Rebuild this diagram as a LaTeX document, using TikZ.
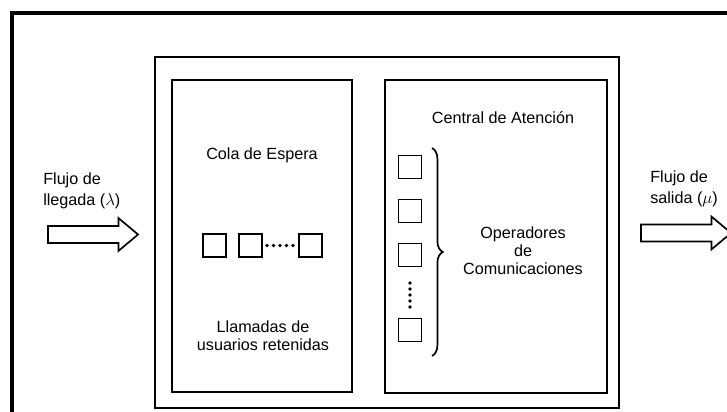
\documentclass[tikz,border=0pt]{standalone}
\usepackage{fontspec}
\setmainfont{Liberation Sans}
\usetikzlibrary{shapes.arrows,decorations.pathreplacing}

\begin{document}
\begin{tikzpicture}[x=0.025cm, y=-0.025cm,
        caja/.style={draw, line width=1.6pt, inner sep=0pt},
        cuadro/.style={draw, line width=1.2pt, minimum size=0.575cm, inner sep=0pt},
        texto/.style={inner sep=0pt, font=\fontsize{11.5}{12.8}\selectfont},
        flecha/.style={draw, line width=1.2pt, shape=single arrow, inner xsep=0pt, inner ysep=0.19cm,
            single arrow head extend=0.2cm, single arrow tip angle=80, minimum height=2.25cm}]
            \useasboundingbox (0,0) rectangle (727,412);
            % marco exterior
            \draw[line width=2.6pt] (12,440) -- (12,13) -- (760,13);

            \node[caja, minimum width=11.6cm, minimum height=8.775cm] (sistema) at (387,232.5) {};
            \node[caja, minimum width=4.5cm, minimum height=7.8cm] (cola) at (262,236) {};
            \node[caja, minimum width=5.55cm, minimum height=7.825cm] (central) at (496,236.5) {};

            \node[texto, align=left, anchor=north west] (llegada) at (43,173) {Flujo de\\[1.5pt]llegada ($\lambda$)};
            \node[texto, align=left, anchor=north west] (salida) at (650,171) {Flujo de\\[1.5pt]salida ($\mu$)};
            \node[flecha] (entrada) at (88,234.5) {};
            \node[flecha] (partida) at (681,233) {};

            \node[texto, anchor=base] (tcola) at (262,160) {Cola de Espera};
            \node[texto, anchor=base] (tcentral) at (503,124) {Central de Atención};
            \node[texto, align=center, anchor=north] (retenidas) at (263,320) {Llamadas de\\usuarios retenidas};
            \node[texto, align=center] (operadores) at (523,251) {Operadores\\de\\Comunicaciones};

            % cola
            \node[cuadro] (c1) at (214.5,245.5) {};
            \node[cuadro] (c2) at (250.5,245.5) {};
            \node[cuadro] (c3) at (310.5,245.5) {};
            \foreach \i in {0,...,4}
                \fill (267+6.5*\i,245.5) circle (1.3pt);

            % operadores
            \node[cuadro] (o1) at (410,167) {};
            \node[cuadro] (o2) at (410,211) {};
            \node[cuadro] (o3) at (410,255) {};
            \node[cuadro] (o4) at (410,330) {};
            \foreach \i in {0,...,4}
                \fill (410,283+6*\i) circle (1.3pt);

            \coordinate (btop) at (432,148);
            \coordinate (bbot) at (432,356);
            \draw[line width=1.2pt, decorate, decoration={brace, amplitude=0.27cm}] (btop) -- (bbot);
        \end{tikzpicture}
\end{document}
